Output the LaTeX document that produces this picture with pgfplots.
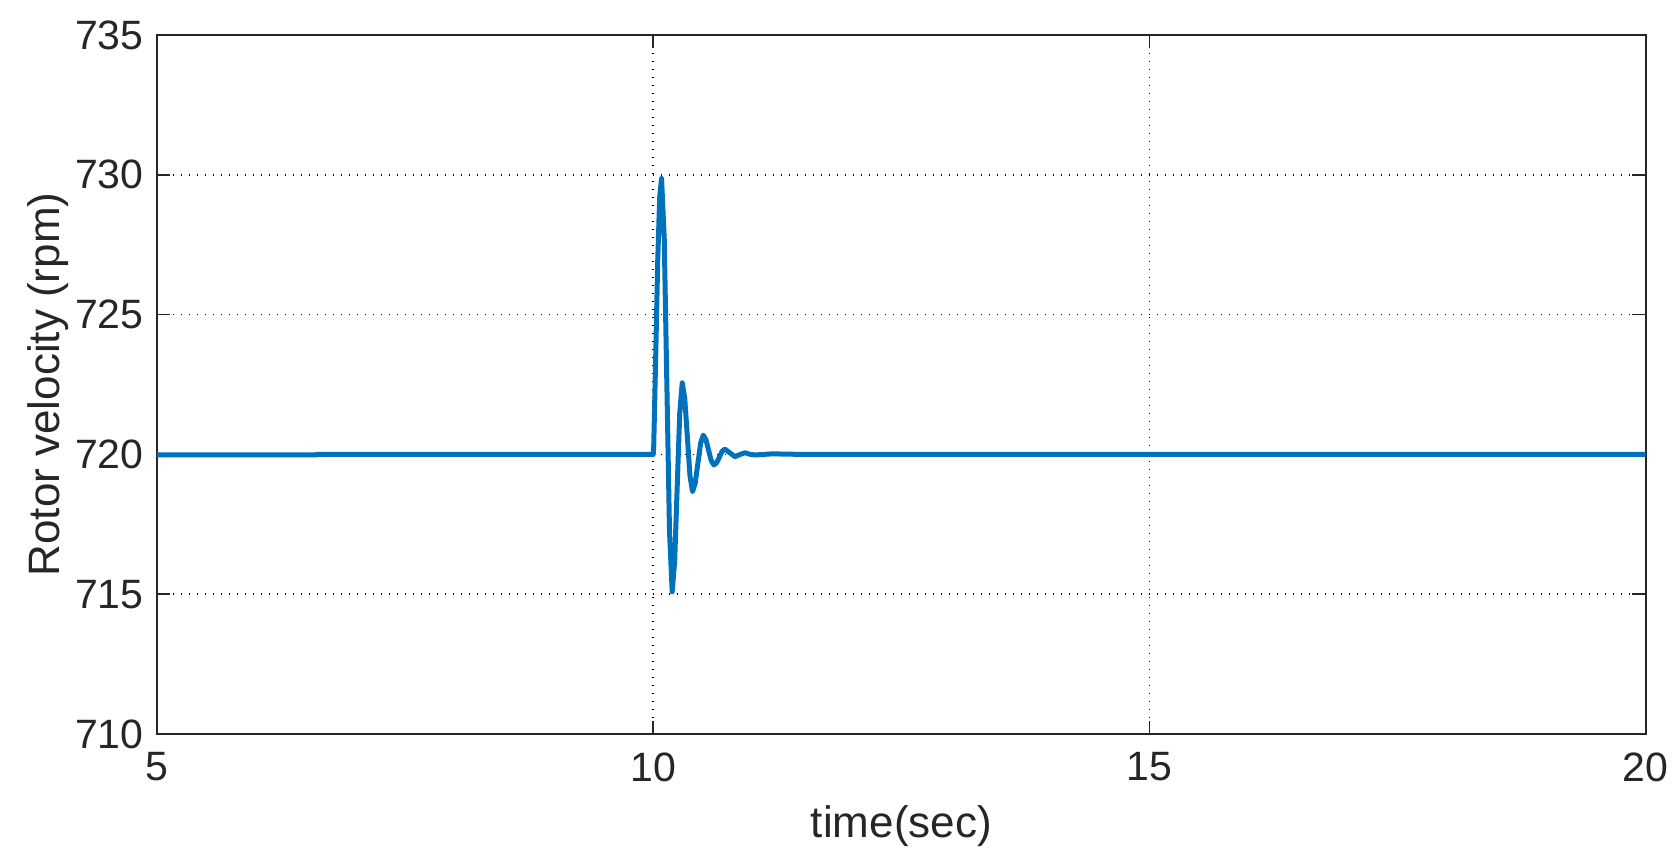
\documentclass[border=0pt]{standalone}
\usepackage{fontspec}
\setmainfont{Liberation Sans}
\usepackage{pgfplots}
\pgfplotsset{compat=1.18}
\definecolor{mblue}{HTML}{0072BD}
\definecolor{tgray}{HTML}{262626}
\begin{document}
\begin{tikzpicture}
\useasboundingbox (-47.1pt,-37.5pt) rectangle (455.4pt,220.2pt);
\begin{axis}[
  scale only axis, width=446.6pt, height=209.7pt,
  at={(0,0)}, anchor=south west,
  xmin=5, xmax=20, ymin=710, ymax=735,
  xtick={5,10,15,20}, ytick={710,715,...,735},
  grid=major,
  major grid style={black, dotted, line width=0.5pt},
  axis line style={tgray, line width=0.7pt},
  tick style={tgray, line width=0.5pt},
  tick align=inside, major tick length=4pt,
  ticklabel style={font=\fontsize{12.3}{14}\selectfont, text=tgray},
  label style={font=\fontsize{13.2}{15}\selectfont, text=tgray},
  /pgf/number format/assume math mode=true,
  xlabel={time(sec)}, ylabel={Rotor velocity (rpm)},
  xlabel style={at={(axis description cs:0.5,0)}, anchor=center, yshift=-27.6pt},
  ylabel style={at={(axis description cs:-0.0732,0.5)}, anchor=center, rotate=0},
  xticklabel style={yshift=-2pt},
  yticklabel style={xshift=-0.5pt},
]
\addplot[mblue, line width=1.5pt, line join=round] coordinates {
(5,719.98) (6.6,719.98) (6.61,720.0) (10.0,720.0) (10.005,720.3)
(10.025,723.5) (10.045,726.9) (10.065,729.2) (10.084,729.87)
(10.111,727.71) (10.1375,722.48) (10.164,717.25) (10.191,715.09)
(10.216,716.18) (10.2415,718.83) (10.267,721.47) (10.292,722.56)
(10.318,721.99) (10.344,720.62) (10.370,719.24) (10.396,718.67)
(10.423,718.97) (10.450,719.68) (10.477,720.39) (10.504,720.69)
(10.531,720.53) (10.5575,720.155) (10.584,719.78) (10.611,719.62)
(10.639,719.70) (10.6665,719.905) (10.694,720.11) (10.722,720.19)
(10.7725,720.055) (10.823,719.92) (10.87,719.99) (10.924,720.06)
(10.98,720.0) (11.03,719.98) (11.2,720.02) (11.5,720.0) (20,720.0)
};
\end{axis}
\end{tikzpicture}
\end{document}
